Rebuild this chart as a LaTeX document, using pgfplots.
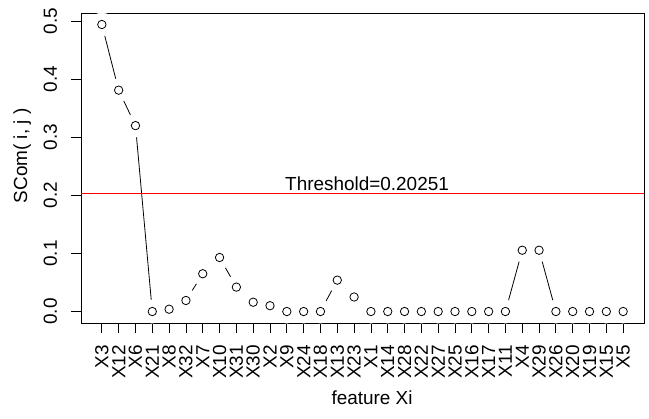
\documentclass[border=0pt]{standalone}
\usepackage{fontspec}
\setmainfont{Liberation Sans}
\usepackage{xcolor}
\usepackage{pgfplots}
\usepackage{pgfplotstable}
\pgfplotsset{compat=1.18}
\pgfplotstableread{
x y
0 0.494
1 0.381
2 0.320
3 0.000
4 0.004
5 0.019
6 0.065
7 0.093
8 0.042
9 0.016
10 0.010
11 0.000
12 0.000
13 0.000
14 0.054
15 0.025
16 0.000
17 0.000
18 0.000
19 0.000
20 0.000
21 0.000
22 0.000
23 0.000
24 0.000
25 0.1055
26 0.1055
27 0.000
28 0.000
29 0.000
30 0.000
31 0.000
}\datatable
\pgfplotstableread{
x y
-1.24 0.20251
32.24 0.20251
}\threshtable
\begin{document}
\begin{tikzpicture}
\path[use as bounding box] (-81bp,-96bp) rectangle (568bp,323bp);
\begin{axis}[
  at={(0,0)}, anchor=south west,
  scale only axis, width=563bp, height=310bp,
  xmin=-1.24, xmax=32.24, ymin=-0.01976, ymax=0.5138,
  axis line style={line width=0.8bp},
  every tick/.style={black, line width=0.8bp},
  tick align=outside, major tick length=10bp,
  xtick pos=lower, ytick pos=left,
  xtick={0,...,31},
  xticklabels={X3,X12,X6,X21,X8,X32,X7,X10,X31,X30,X2,X9,X24,X18,X13,X23,X1,X14,X28,X22,X27,X25,X16,X17,X11,X4,X29,X26,X20,X19,X15,X5},
  ytick={0,0.1,0.2,0.3,0.4,0.5},
  yticklabels={0.0,0.1,0.2,0.3,0.4,0.5},
  tick label style={font=\fontsize{19}{23}\selectfont, inner sep=0pt},
  xticklabel style={rotate=90, anchor=east},
  yticklabel style={rotate=90, anchor=base},
  xticklabel shift=12bp, yticklabel shift=14bp,
  xlabel={feature Xi}, ylabel={SCom( i, j )},
  xlabel style={at={(axis description cs:0.5169,-0.2645)}, anchor=base, font=\fontsize{19}{23}\selectfont, inner sep=0pt},
  ylabel style={at={(axis description cs:-0.0959,0.539)}, anchor=base, font=\fontsize{19}{23}\selectfont, inner sep=0pt},
]
\addplot[black, line width=0.8bp] table[x=x,y=y] {\datatable};
\addplot[white, only marks, mark=*, mark size=11.7bp, mark options={draw=white, fill=white}] table[x=x,y=y] {\datatable};
\addplot[color=red, solid, no marks, line width=1bp] table[x=x,y=y] {\threshtable};
\addplot[black, only marks, mark=o, mark size=4.2bp, mark options={black, line width=0.8bp}] table[x=x,y=y] {\datatable};
\node[anchor=base, font=\fontsize{19}{23}\selectfont, inner sep=0pt, text=black] at (axis cs:15.77,0.2076) {Threshold=0.20251};
\end{axis}
\end{tikzpicture}
\end{document}
